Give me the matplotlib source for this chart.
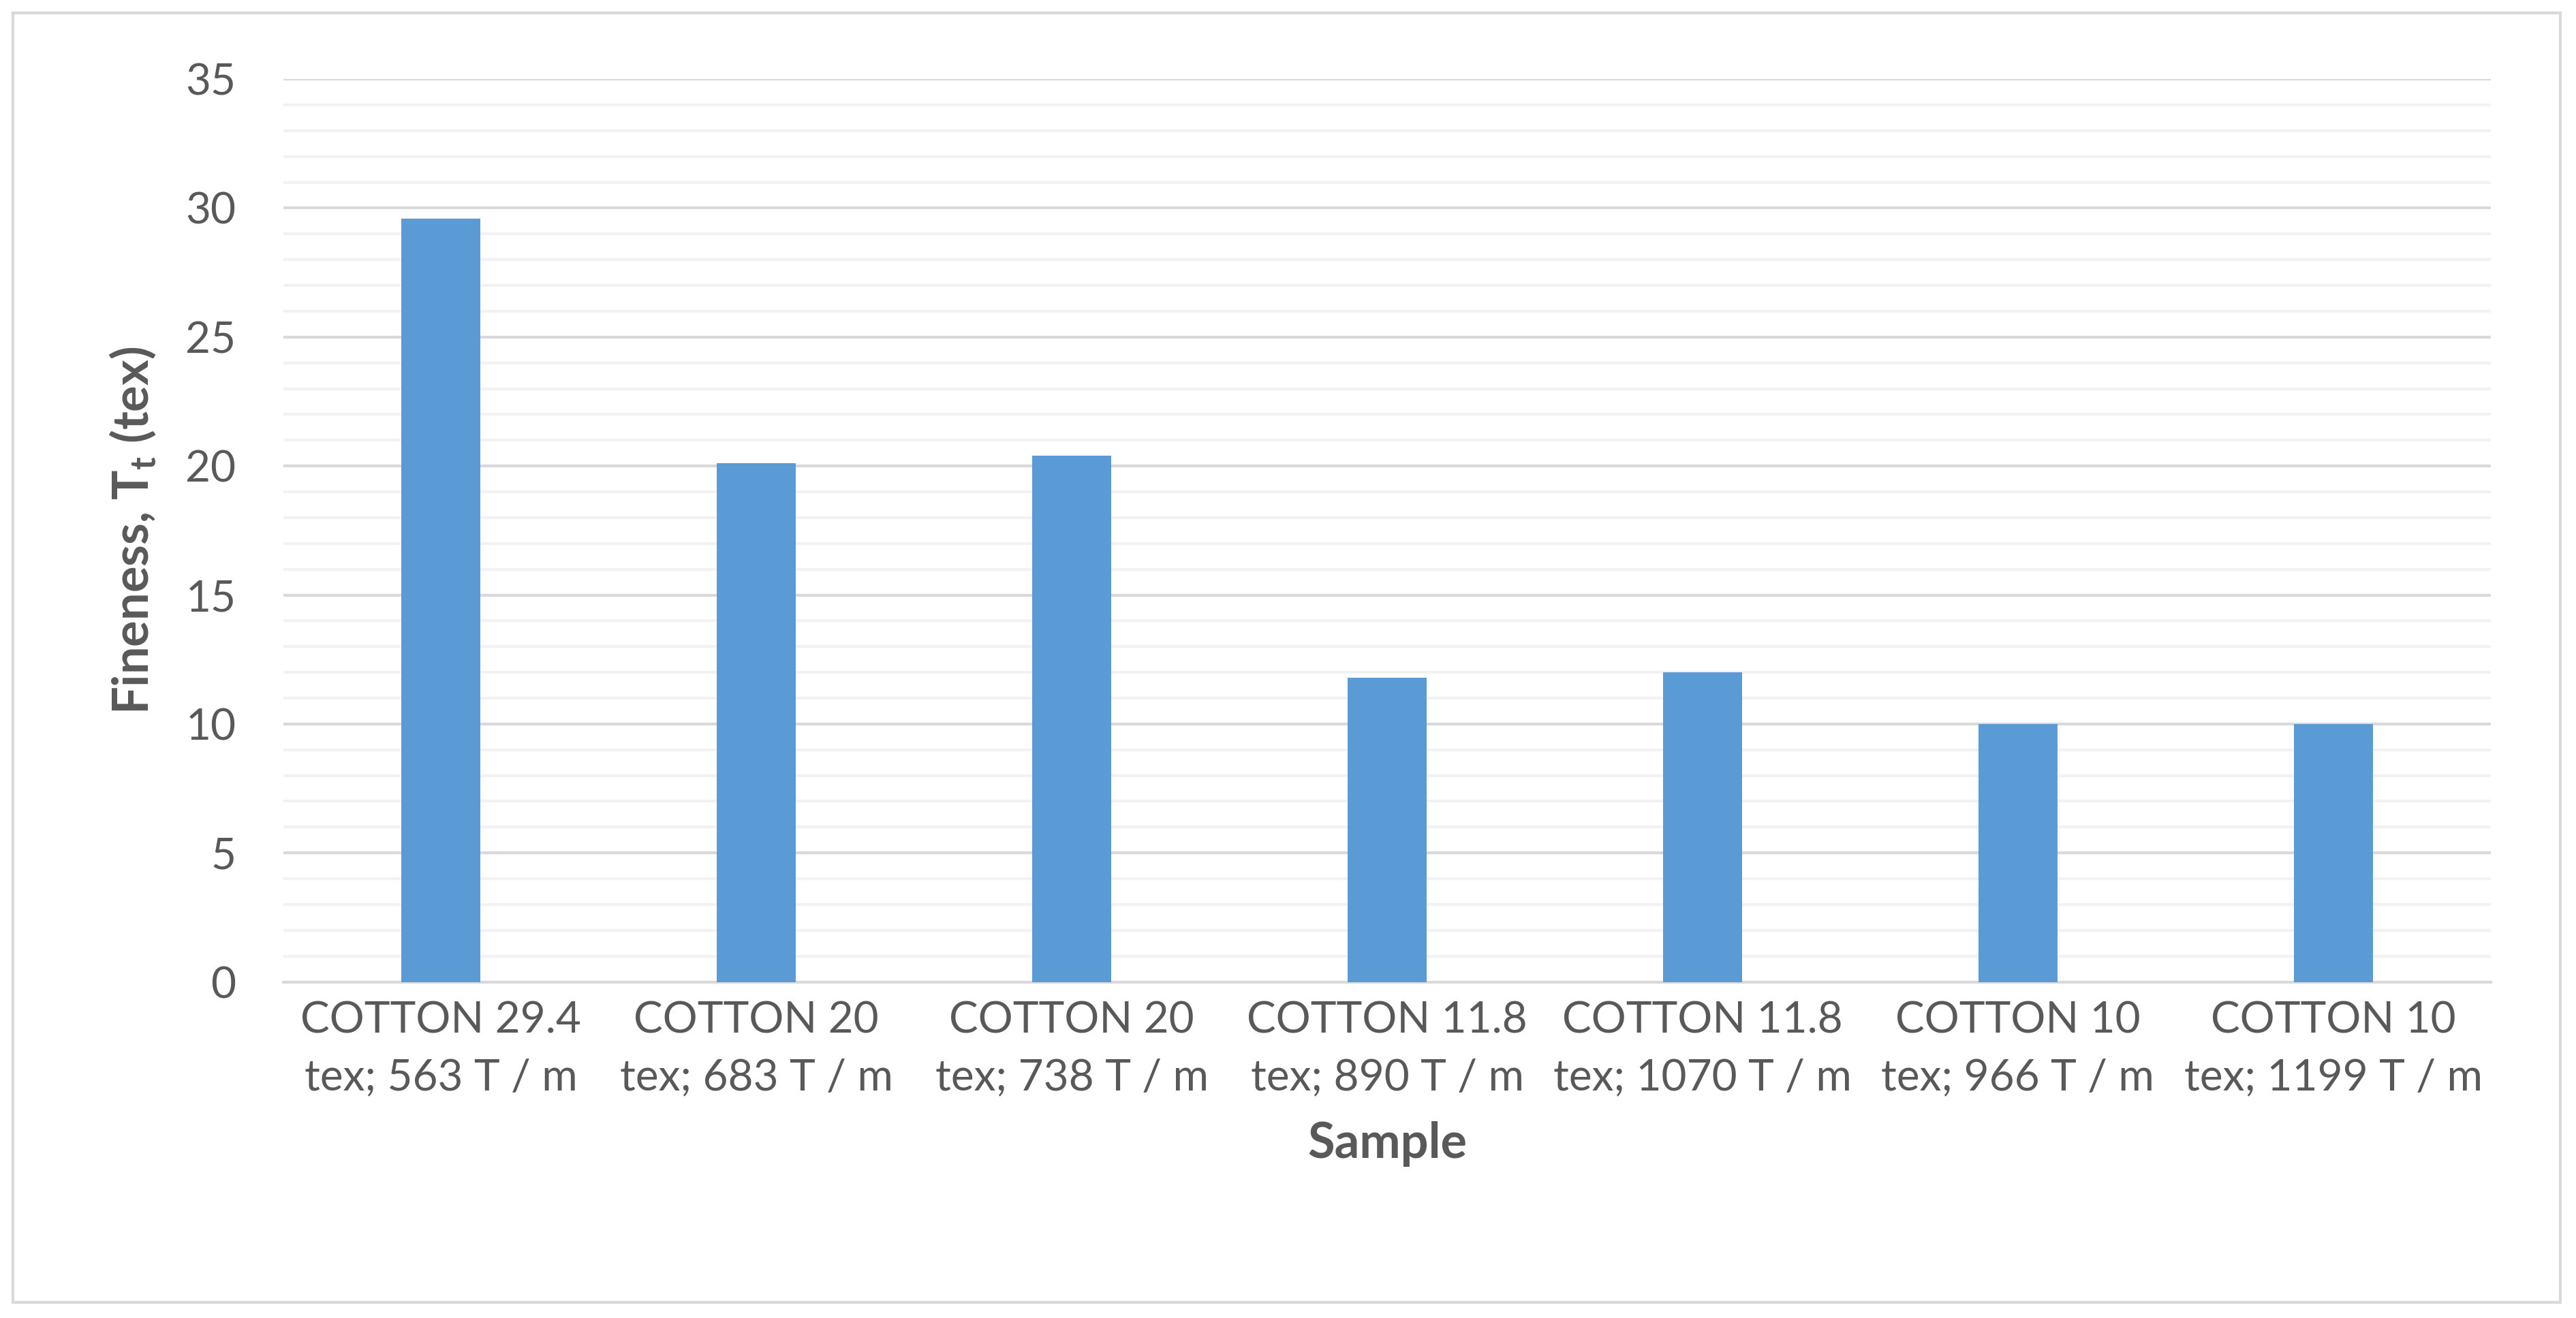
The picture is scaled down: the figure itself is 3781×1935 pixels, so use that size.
import matplotlib
matplotlib.use("Agg")
import matplotlib.pyplot as plt
from matplotlib.patches import Rectangle

categories = ["COTTON 29.4\ntex; 563 T / m", "COTTON 20\ntex; 683 T / m", "COTTON 20\ntex; 738 T / m",
              "COTTON 11.8\ntex; 890 T / m", "COTTON 11.8\ntex; 1070 T / m", "COTTON 10\ntex; 966 T / m",
              "COTTON 10\ntex; 1199 T / m"]
values = [29.6, 20.1, 20.4, 11.8, 12.0, 10.0, 10.0]
yticks = [0, 5, 10, 15, 20, 25, 30, 35]

plt.rcParams['font.family'] = ['Lato', 'DejaVu Sans']
fig = plt.figure(figsize=(37.81, 19.35), dpi=100)
fig.patches.append(Rectangle((0.005, 0.012), 0.989, 0.978, transform=fig.transFigure,
                             fill=False, edgecolor='#D9D9D9', linewidth=3))
ax = fig.add_axes([0.110, 0.255, 0.857, 0.685])
x = list(range(len(categories)))
ax.bar(x, values, width=0.25, color='#5B9BD5', zorder=3)
ax.set_xlim(-0.5, len(categories) - 0.5)
ax.set_ylim(0, 35)
ax.set_yticks(yticks)
ax.set_yticks([v for v in range(36) if v % 5], minor=True)
ax.grid(axis='y', which='major', color='#D9D9D9', linewidth=3, zorder=0)
ax.grid(axis='y', which='minor', color='#F2F2F2', linewidth=3, zorder=0)
ax.set_xticks(x)
ax.set_xticklabels(categories, fontsize=46, color='#595959', linespacing=1.55)
ax.tick_params(axis='y', labelsize=46, labelcolor='#595959', length=0, pad=50, which='both')
ax.tick_params(axis='x', length=0, pad=20)
for s in ['top', 'right', 'left']:
    ax.spines[s].set_visible(False)
ax.spines['bottom'].set_color('#D9D9D9')
ax.spines['bottom'].set_linewidth(3)
ax.set_xlabel("Sample", fontsize=52, fontweight='bold', color='#595959', labelpad=25)
ax.set_ylabel(r"Fineness, T$_\mathregular{t}$ (tex)", fontsize=52, fontweight='bold', color='#595959', labelpad=30)
fig.savefig("out.png", dpi=100)
